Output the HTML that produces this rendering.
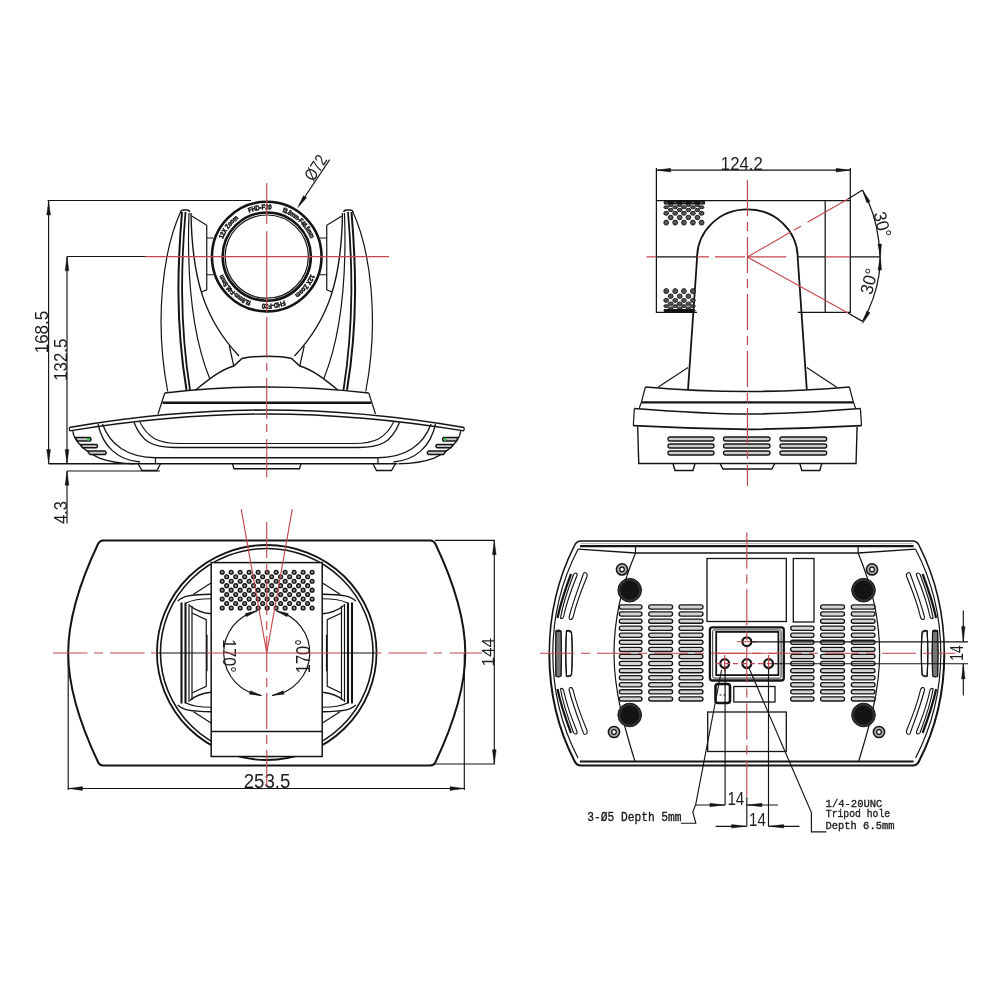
<!DOCTYPE html>
<html><head><meta charset="utf-8"><style>
html,body{margin:0;padding:0;background:#fff;width:1000px;height:1000px;overflow:hidden}
svg{display:block;will-change:transform}
</style></head><body>
<svg width="1000" height="1000" viewBox="0 0 1000 1000">
<rect width="1000" height="1000" fill="#fff"/>
<g id="fh">
<g fill="none" stroke="#141414" stroke-width="1.2">
 <path d="M181,211 C163,250 154,320 167.75,391.5"/>
 <path d="M180.5,212 Q181,210 183,210 L187,210 Q189,210 190,212" stroke-width="1.5"/>
 <path d="M182,212 C178,260 175,320 186.5,390" stroke-width="2.0"/>
 <path d="M185.5,212 C181.5,260 179,320 190,390" stroke-width="1.8"/>
 <path d="M189,213 C187,270 190,330 209.75,378.75"/>
 <path d="M191,213 C192,280 205,320 239,356" stroke-width="1.4"/>
 <path d="M191.7,216 L206.75,225.25 L206.75,289.75 L201.5,292"/>
 <path d="M206.75,238 L213.5,238 M206.75,274.75 L213.5,274.75"/>
 <path d="M229.25,345.75 L233.75,366"/>
 <path d="M195.5,390 C208,380 220,370 233.75,366 L242,358.5 C250,356.5 258,356.25 266.75,356.25" stroke-width="1.4"/>
 <path d="M164.75,393 C200,389 235,387 266.75,387" stroke-width="1.5"/>
 <path d="M162.5,402.75 L266.75,402.75" stroke-width="2.4"/>
 <path d="M164.75,393 L158,414"/>
 <path d="M69.3,427.5 C130,417 200,410 266.75,410" stroke-width="1.6"/>
 <path d="M69.5,430.9 C130,421 200,414 266.75,414" stroke-width="1.4"/>
 <path d="M69.3,427.5 L69.5,430.75"/>
 <path d="M72.8,431.2 C74,441 85,452 100,458.3 C110,462 122,463.5 135,463.75" stroke-width="1.3"/>
 <path d="M98,424 C103,447 118,460 140,462" stroke-width="1.3"/>
 <path d="M102.5,424 C110,445 128,457.75 156,457.75 L266.75,457.75" stroke-width="1.3"/>
 <path d="M155.5,457.75 L155.5,463.75"/>
 <path d="M134,422.5 C142,442 152,447.5 175,447.5 L266.75,447.5" stroke-width="1.3"/>
 <path d="M139.5,421.5 C148,438 158,443.5 180,443.5 L266.75,443.5" stroke-width="1.1"/>
 <path d="M138,463.75 L142,470.5 L157,470.5 L160.5,463.75" stroke-width="1.3"/>
 <path d="M232.5,463.75 L234,468.75 L266.75,468.75" stroke-width="1.3"/>
 <path d="M75.5,437.6 L90,437.6 Q92,439.3 90,441.1 L77,441.1 Z M80.5,444.4 L96.5,444.4 Q98.5,446 96.5,447.7 L82.5,447.7 Z M87.5,451 L105,451 Q107.5,452.8 105,454.6 L90,454.6 Z" stroke-width="1.5" fill="#c8c8c8"/>
</g>
<circle cx="88.4" cy="439.3" r="1.6" fill="#36c050"/>
</g>
<use href="#fh" transform="translate(533.5,0) scale(-1,1)"/>
<path d="M48.6,463.75 L135,463.75 M135,463.75 L397.5,463.75" stroke="#141414" stroke-width="1.4" fill="none"/>
<g fill="none" stroke="#141414">
 <circle cx="266.75" cy="256.6" r="54.8" stroke-width="2.6"/>
 <circle cx="266.75" cy="256.6" r="44.1" stroke-width="2.6"/>
 <circle cx="266.75" cy="256.6" r="41.6" stroke-width="1.2"/>
</g>
<defs><path id="ringp" d="M217.25,256.6 A49.5,49.5 0 0,1 316.25,256.6"/></defs>
<g id="ringtxt" font-family="'Liberation Sans', sans-serif" font-size="6.8" font-weight="bold" fill="#141414" stroke="#141414" stroke-width="0.55">
<text dy="2.2"><textPath href="#ringp" startOffset="19" textLength="27" lengthAdjust="spacingAndGlyphs">12X Zoom</textPath></text>
<text dy="2.2"><textPath href="#ringp" startOffset="58.7" textLength="23.8" lengthAdjust="spacingAndGlyphs">FHD-F20</textPath></text>
<text dy="2.2"><textPath href="#ringp" startOffset="94.2" textLength="41.8" lengthAdjust="spacingAndGlyphs">f3.8mm-F46.5mm</textPath></text>
</g>
<use href="#ringtxt" transform="rotate(180 266.75 256.6)"/>
<g fill="none" stroke="#141414" stroke-width="1.15">
 <path d="M47.5,200.5 L251,200.5"/>
 <path d="M48.6,200.5 L48.6,463.8"/>
 <path d="M67,256.5 L145,256.5"/>
 <path d="M67,256.5 L67,463.8"/>
 <path d="M67,471 L160,471"/>
 <path d="M67,471 L67,523.5"/>
 <path d="M329.7,159.6 L299,205.5"/>
</g>
<path d="M48.60,201.00 L50.50,215.00 L46.70,215.00Z" fill="#141414" stroke="#141414" stroke-width="0.4"/>
<path d="M48.60,463.50 L46.70,449.50 L50.50,449.50Z" fill="#141414" stroke="#141414" stroke-width="0.4"/>
<path d="M67.00,256.80 L68.90,270.80 L65.10,270.80Z" fill="#141414" stroke="#141414" stroke-width="0.4"/>
<path d="M67.00,463.50 L65.10,449.50 L68.90,449.50Z" fill="#141414" stroke="#141414" stroke-width="0.4"/>
<path d="M67.00,471.30 L68.90,485.30 L65.10,485.30Z" fill="#141414" stroke="#141414" stroke-width="0.4"/>
<path d="M297.80,207.50 L303.42,195.63 L306.59,197.73Z" fill="#141414" stroke="#141414" stroke-width="0.4"/>
<text transform="translate(48.40,332.00) rotate(-90) scale(0.920,1)" font-family="'Liberation Sans', sans-serif" font-size="18.57" text-anchor="middle" fill="#1c1c1c" >168.5</text>
<text transform="translate(66.80,359.70) rotate(-90) scale(0.895,1)" font-family="'Liberation Sans', sans-serif" font-size="18.86" text-anchor="middle" fill="#1c1c1c" >132.5</text>
<text transform="translate(66.80,512.40) rotate(-90) scale(0.909,1)" font-family="'Liberation Sans', sans-serif" font-size="18.00" text-anchor="middle" fill="#1c1c1c" >4.3</text>
<text transform="translate(320.60,170.90) rotate(-57) scale(0.827,1)" font-family="'Liberation Sans', sans-serif" font-size="17.22" text-anchor="middle" fill="#1c1c1c" >Ø72</text>
<g fill="none" stroke="#c4464c" stroke-width="1.15">
 <path d="M145,256.6 L389,256.6"/>
 <path d="M266.75,183 L266.75,223.8 M266.75,231.2 L266.75,312"/>
 <path d="M266.75,317 L266.75,477.5" stroke-dasharray="41,5,8,7"/>
</g>
<g id="sh">
<g fill="none" stroke="#141414" stroke-width="1.2">
 <path d="M697,259 C697,230 720,209.4 747.4,209.4" stroke-width="1.8"/>
 <path d="M697,259 L688,389.7" stroke-width="1.8"/>
 <path d="M658,387.3 L688,367.5" stroke-width="1.1"/>
 <path d="M645.4,387 C680,390 720,391.5 747.4,391.5" stroke-width="1.7"/>
 <path d="M645.4,387 L641.5,401.9 L639.3,408"/>
 <path d="M641.5,402.4 L747.4,402.4" stroke-width="2.4"/>
 <path d="M634.4,408.5 C680,412 720,414 747.4,414" stroke-width="1.7"/>
 <path d="M634.4,408.5 L633.3,425.6"/>
 <path d="M633.3,425.6 C680,428 720,429 747.4,429.4" stroke-width="1.7"/>
 <path d="M637.7,427 L638.75,463.5 L747.4,463.5" stroke-width="1.4"/>
 <path d="M673,463.5 L675,470.5 L693,470.5 L695,463.5" stroke-width="1.4"/>
 <path d="M720,463.5 L723,469 L747.4,469" stroke-width="1.4"/>
</g></g>
<use href="#sh" transform="translate(1494.8,0) scale(-1,1)"/>
<g fill="#ccc" stroke="#141414" stroke-width="1.3"><rect x="668" y="437" width="46.0" height="4" rx="2"/><rect x="668" y="444" width="46.0" height="4" rx="2"/><rect x="668" y="451" width="46.0" height="4" rx="2"/><rect x="723.5" y="437" width="46.5" height="4" rx="2"/><rect x="723.5" y="444" width="46.5" height="4" rx="2"/><rect x="723.5" y="451" width="46.5" height="4" rx="2"/><rect x="780" y="437" width="46.7" height="4" rx="2"/><rect x="780" y="444" width="46.7" height="4" rx="2"/><rect x="780" y="451" width="46.7" height="4" rx="2"/></g>
<g fill="none" stroke="#141414" stroke-width="1.25">
 <path d="M656.4,168 L656.4,312.4 L697,312.4 M797.8,312.4 L850.3,312.4 L850.3,168"/>
 <path d="M656.4,200.5 L850.3,200.5"/>
 <path d="M825.2,200.5 L825.2,312.4"/>
 <path d="M656.4,256.8 L697,256.8 M797.8,256.8 L825.2,256.8 M850.3,256.8 L880.4,256.8"/>
 <path d="M848,199 L862.5,190 M848,313 L862.5,321.4"/>
 <path d="M862.5,190 A133,133 0 0,1 878.6,240 M879,275 A133,133 0 0,1 862.5,321.4"/>
 <path d="M878.6,240 A133,133 0 0,1 879,275" />
 <path d="M656.4,170.2 L850.3,170.2"/>
</g>
<path d="M656.60,170.20 L670.60,168.30 L670.60,172.10Z" fill="#141414" stroke="#141414" stroke-width="0.4"/>
<path d="M850.10,170.20 L836.10,172.10 L836.10,168.30Z" fill="#141414" stroke="#141414" stroke-width="0.4"/>
<text transform="translate(741.75,170.00) rotate(0) scale(0.937,1)" font-family="'Liberation Sans', sans-serif" font-size="17.86" text-anchor="middle" fill="#1c1c1c" >124.2</text>
<path d="M862.58,190.50 L870.09,201.27 L866.88,202.90Z" fill="#141414" stroke="#141414" stroke-width="0.4"/>
<path d="M880.40,257.00 L877.92,244.11 L881.52,243.92Z" fill="#141414" stroke="#141414" stroke-width="0.4"/>
<path d="M880.40,257.00 L881.52,270.08 L877.92,269.89Z" fill="#141414" stroke="#141414" stroke-width="0.4"/>
<path d="M862.58,323.50 L866.88,311.10 L870.09,312.73Z" fill="#141414" stroke="#141414" stroke-width="0.4"/>
<text transform="translate(876.50,226.00) rotate(75) scale(0.960,1)" font-family="'Liberation Sans', sans-serif" font-size="17.86" text-anchor="middle" fill="#1c1c1c" >30°</text>
<text transform="translate(875.00,283.00) rotate(-75) scale(0.960,1)" font-family="'Liberation Sans', sans-serif" font-size="17.86" text-anchor="middle" fill="#1c1c1c" >30°</text>
<g fill="none" stroke="#c4464c" stroke-width="1.15">
 <path d="M646.6,256.8 L656.4,256.8 M747.4,256.8 L786.3,256.8 M825.2,256.8 L850.3,256.8"/>
 <path d="M697,256.8 L747.4,256.8" stroke-dasharray="12,6,30,6"/>
 <path d="M747.4,180 L747.4,486" stroke-dasharray="36,6,9,6"/>
 <path d="M747.4,257 L848,199" stroke-dasharray="50,3.5,8.3,7.6,100"/>
 <path d="M747.4,257 L848,313"/>
</g>
<g fill="#555" stroke="#141414" stroke-width="0.9"><rect x="664.5" y="200.8" width="40" height="3.2" fill="#141414"/><ellipse cx="666.2" cy="202.5" rx="2.4" ry="1.08"/><ellipse cx="675.2" cy="202.5" rx="2.4" ry="1.08"/><ellipse cx="683.9" cy="202.5" rx="2.4" ry="1.08"/><ellipse cx="692.9" cy="202.5" rx="2.4" ry="1.08"/><ellipse cx="701.6" cy="202.5" rx="2.4" ry="1.08"/><ellipse cx="670.7" cy="205.2" rx="2.4" ry="1.26"/><ellipse cx="679.7" cy="205.2" rx="2.4" ry="1.26"/><ellipse cx="688.4" cy="205.2" rx="2.4" ry="1.26"/><ellipse cx="697.4" cy="205.2" rx="2.4" ry="1.26"/><ellipse cx="666.2" cy="207.3" rx="2.4" ry="1.44"/><ellipse cx="675.2" cy="207.3" rx="2.4" ry="1.44"/><ellipse cx="683.9" cy="207.3" rx="2.4" ry="1.44"/><ellipse cx="692.9" cy="207.3" rx="2.4" ry="1.44"/><ellipse cx="701.6" cy="207.3" rx="2.4" ry="1.44"/><ellipse cx="670.7" cy="210" rx="2.4" ry="1.71"/><ellipse cx="679.7" cy="210" rx="2.4" ry="1.71"/><ellipse cx="688.4" cy="210" rx="2.4" ry="1.71"/><ellipse cx="697.4" cy="210" rx="2.4" ry="1.71"/><ellipse cx="666.2" cy="213.3" rx="2.4" ry="1.98"/><ellipse cx="675.2" cy="213.3" rx="2.4" ry="1.98"/><ellipse cx="683.9" cy="213.3" rx="2.4" ry="1.98"/><ellipse cx="692.9" cy="213.3" rx="2.4" ry="1.98"/><ellipse cx="701.6" cy="213.3" rx="2.4" ry="1.98"/><ellipse cx="670.7" cy="217.5" rx="2.4" ry="2.25"/><ellipse cx="679.7" cy="217.5" rx="2.4" ry="2.25"/><ellipse cx="688.4" cy="217.5" rx="2.4" ry="2.25"/><ellipse cx="697.4" cy="217.5" rx="2.4" ry="2.25"/><ellipse cx="666.2" cy="222.6" rx="2.4" ry="2.52"/><ellipse cx="675.2" cy="222.6" rx="2.4" ry="2.52"/><ellipse cx="683.9" cy="222.6" rx="2.4" ry="2.52"/><ellipse cx="692.9" cy="222.6" rx="2.4" ry="2.52"/><ellipse cx="701.6" cy="222.6" rx="2.4" ry="2.52"/><ellipse cx="666.2" cy="291.1" rx="2.4" ry="2.52"/><ellipse cx="675.2" cy="291.1" rx="2.4" ry="2.52"/><ellipse cx="683.9" cy="291.1" rx="2.4" ry="2.52"/><ellipse cx="692.9" cy="291.1" rx="2.4" ry="2.52"/><ellipse cx="670.7" cy="296.2" rx="2.4" ry="2.25"/><ellipse cx="679.7" cy="296.2" rx="2.4" ry="2.25"/><ellipse cx="688.4" cy="296.2" rx="2.4" ry="2.25"/><ellipse cx="666.2" cy="300.4" rx="2.4" ry="1.98"/><ellipse cx="675.2" cy="300.4" rx="2.4" ry="1.98"/><ellipse cx="683.9" cy="300.4" rx="2.4" ry="1.98"/><ellipse cx="692.9" cy="300.4" rx="2.4" ry="1.98"/><ellipse cx="670.7" cy="303.7" rx="2.4" ry="1.71"/><ellipse cx="679.7" cy="303.7" rx="2.4" ry="1.71"/><ellipse cx="688.4" cy="303.7" rx="2.4" ry="1.71"/><ellipse cx="666.2" cy="306.1" rx="2.4" ry="1.44"/><ellipse cx="675.2" cy="306.1" rx="2.4" ry="1.44"/><ellipse cx="683.9" cy="306.1" rx="2.4" ry="1.44"/><ellipse cx="692.9" cy="306.1" rx="2.4" ry="1.44"/><ellipse cx="670.7" cy="308.2" rx="2.4" ry="1.26"/><ellipse cx="679.7" cy="308.2" rx="2.4" ry="1.26"/><ellipse cx="688.4" cy="308.2" rx="2.4" ry="1.26"/><ellipse cx="666.2" cy="310.6" rx="2.4" ry="1.08"/><ellipse cx="675.2" cy="310.6" rx="2.4" ry="1.08"/><ellipse cx="683.9" cy="310.6" rx="2.4" ry="1.08"/><ellipse cx="692.9" cy="310.6" rx="2.4" ry="1.08"/><rect x="664.5" y="309.5" width="29" height="3" fill="#141414"/></g>
<g id="th">
<g fill="none" stroke="#141414" stroke-width="1.2">
 <path d="M266.75,540.4 L103,540.4 Q99.5,540.6 98,544 C80,582 68.2,620 68.2,653" stroke-width="2"/>
 <path d="M181.5,602.5 L181.5,653 M185.5,602.5 L185.5,653" stroke-width="2.1"/>
 <path d="M189,604 L189,653 M192,606 L192,653" stroke-width="1.2"/>
 <path d="M177.75,601 C183,596 190,594.5 211,594.25" stroke-width="1.3"/>
 <path d="M186,603 C193,599.5 200,598.75 211,598.75"/>
 <path d="M189.75,605.5 C195,610 203,613 211,613.75" stroke-width="1.3"/>
 <path d="M192,613 L206.25,619.75 L206.25,653"/>
 <path d="M193.5,594.25 L211,583"/>
 <path d="M207,634.75 L207,653"/>
 <path d="M211,634.75 C214,640 214.5,646 214.5,653"/>
</g></g><use href="#th" transform="translate(533.5,0) scale(-1,1)"/>
<use href="#th" transform="translate(0,1306) scale(1,-1)"/><use href="#th" transform="translate(533.5,1306) scale(-1,-1)"/>
<g fill="none" stroke="#141414">
 <ellipse cx="266.75" cy="652.5" rx="109.8" ry="107.5" stroke-width="1.8"/>
 <ellipse cx="266.75" cy="652.5" rx="106.3" ry="104" stroke-width="1.6"/>
</g>
<rect x="211.2" y="562.6" width="111" height="193.9" fill="#fff" stroke="#141414" stroke-width="1.5"/>
<path d="M211.2,731.5 L322.2,731.5" stroke="#141414" stroke-width="1.6"/>

<g fill="#888" stroke="#151515" stroke-width="1.35"><circle cx="222.20" cy="572.30" r="1.9"/><circle cx="231.19" cy="572.30" r="1.9"/><circle cx="240.18" cy="572.30" r="1.9"/><circle cx="249.17" cy="572.30" r="1.9"/><circle cx="258.16" cy="572.30" r="1.9"/><circle cx="267.15" cy="572.30" r="1.9"/><circle cx="276.14" cy="572.30" r="1.9"/><circle cx="285.13" cy="572.30" r="1.9"/><circle cx="294.12" cy="572.30" r="1.9"/><circle cx="303.11" cy="572.30" r="1.9"/><circle cx="312.10" cy="572.30" r="1.9"/><circle cx="226.70" cy="576.76" r="1.9"/><circle cx="235.69" cy="576.76" r="1.9"/><circle cx="244.68" cy="576.76" r="1.9"/><circle cx="253.67" cy="576.76" r="1.9"/><circle cx="262.66" cy="576.76" r="1.9"/><circle cx="271.65" cy="576.76" r="1.9"/><circle cx="280.64" cy="576.76" r="1.9"/><circle cx="289.63" cy="576.76" r="1.9"/><circle cx="298.62" cy="576.76" r="1.9"/><circle cx="307.61" cy="576.76" r="1.9"/><circle cx="222.20" cy="581.22" r="1.9"/><circle cx="231.19" cy="581.22" r="1.9"/><circle cx="240.18" cy="581.22" r="1.9"/><circle cx="249.17" cy="581.22" r="1.9"/><circle cx="258.16" cy="581.22" r="1.9"/><circle cx="267.15" cy="581.22" r="1.9"/><circle cx="276.14" cy="581.22" r="1.9"/><circle cx="285.13" cy="581.22" r="1.9"/><circle cx="294.12" cy="581.22" r="1.9"/><circle cx="303.11" cy="581.22" r="1.9"/><circle cx="312.10" cy="581.22" r="1.9"/><circle cx="226.70" cy="585.68" r="1.9"/><circle cx="235.69" cy="585.68" r="1.9"/><circle cx="244.68" cy="585.68" r="1.9"/><circle cx="253.67" cy="585.68" r="1.9"/><circle cx="262.66" cy="585.68" r="1.9"/><circle cx="271.65" cy="585.68" r="1.9"/><circle cx="280.64" cy="585.68" r="1.9"/><circle cx="289.63" cy="585.68" r="1.9"/><circle cx="298.62" cy="585.68" r="1.9"/><circle cx="307.61" cy="585.68" r="1.9"/><circle cx="222.20" cy="590.14" r="1.9"/><circle cx="231.19" cy="590.14" r="1.9"/><circle cx="240.18" cy="590.14" r="1.9"/><circle cx="249.17" cy="590.14" r="1.9"/><circle cx="258.16" cy="590.14" r="1.9"/><circle cx="267.15" cy="590.14" r="1.9"/><circle cx="276.14" cy="590.14" r="1.9"/><circle cx="285.13" cy="590.14" r="1.9"/><circle cx="294.12" cy="590.14" r="1.9"/><circle cx="303.11" cy="590.14" r="1.9"/><circle cx="312.10" cy="590.14" r="1.9"/><circle cx="226.70" cy="594.60" r="1.9"/><circle cx="235.69" cy="594.60" r="1.9"/><circle cx="244.68" cy="594.60" r="1.9"/><circle cx="253.67" cy="594.60" r="1.9"/><circle cx="262.66" cy="594.60" r="1.9"/><circle cx="271.65" cy="594.60" r="1.9"/><circle cx="280.64" cy="594.60" r="1.9"/><circle cx="289.63" cy="594.60" r="1.9"/><circle cx="298.62" cy="594.60" r="1.9"/><circle cx="307.61" cy="594.60" r="1.9"/><circle cx="222.20" cy="599.06" r="1.9"/><circle cx="231.19" cy="599.06" r="1.9"/><circle cx="240.18" cy="599.06" r="1.9"/><circle cx="249.17" cy="599.06" r="1.9"/><circle cx="258.16" cy="599.06" r="1.9"/><circle cx="267.15" cy="599.06" r="1.9"/><circle cx="276.14" cy="599.06" r="1.9"/><circle cx="285.13" cy="599.06" r="1.9"/><circle cx="294.12" cy="599.06" r="1.9"/><circle cx="303.11" cy="599.06" r="1.9"/><circle cx="312.10" cy="599.06" r="1.9"/><circle cx="226.70" cy="603.52" r="1.9"/><circle cx="235.69" cy="603.52" r="1.9"/><circle cx="244.68" cy="603.52" r="1.9"/><circle cx="253.67" cy="603.52" r="1.9"/><circle cx="262.66" cy="603.52" r="1.9"/><circle cx="271.65" cy="603.52" r="1.9"/><circle cx="280.64" cy="603.52" r="1.9"/><circle cx="289.63" cy="603.52" r="1.9"/><circle cx="298.62" cy="603.52" r="1.9"/><circle cx="307.61" cy="603.52" r="1.9"/><circle cx="222.20" cy="607.98" r="1.9"/><circle cx="231.19" cy="607.98" r="1.9"/><circle cx="240.18" cy="607.98" r="1.9"/><circle cx="249.17" cy="607.98" r="1.9"/><circle cx="258.16" cy="607.98" r="1.9"/><circle cx="267.15" cy="607.98" r="1.9"/><circle cx="276.14" cy="607.98" r="1.9"/><circle cx="285.13" cy="607.98" r="1.9"/><circle cx="294.12" cy="607.98" r="1.9"/><circle cx="303.11" cy="607.98" r="1.9"/><circle cx="312.10" cy="607.98" r="1.9"/></g>
<g fill="none" stroke="#141414" stroke-width="1.15">
<path d="M257.08,610.90 A43,43 0 0,0 261.51,695.48"/>
<path d="M276.42,610.90 A43,43 0 0,1 271.99,695.48"/>
</g>
<path d="M257.08,610.90 L246.47,616.79 L245.21,613.42Z" fill="#141414" stroke="#141414" stroke-width="0.4"/>
<path d="M261.51,695.48 L249.44,694.22 L250.34,690.73Z" fill="#141414" stroke="#141414" stroke-width="0.4"/>
<path d="M276.42,610.90 L288.29,613.42 L287.03,616.79Z" fill="#141414" stroke="#141414" stroke-width="0.4"/>
<path d="M271.99,695.48 L283.16,690.73 L284.06,694.22Z" fill="#141414" stroke="#141414" stroke-width="0.4"/>
<text transform="translate(222.80,656.00) rotate(90) scale(0.837,1)" font-family="'Liberation Sans', sans-serif" font-size="19.29" text-anchor="middle" fill="#1c1c1c" >170°</text>
<text transform="translate(310.20,656.20) rotate(-90) scale(0.851,1)" font-family="'Liberation Sans', sans-serif" font-size="19.29" text-anchor="middle" fill="#1c1c1c" >170°</text>
<g fill="none" stroke="#141414" stroke-width="1.15">
 <path d="M68.2,653 L68.2,790"/>
 <path d="M464.3,653 L464.3,790"/>
 <path d="M68.2,788.5 L464.3,788.5"/>
 <path d="M435,540.4 L495,540.4 M435,764 L495,764"/>
 <path d="M494.3,540.4 L494.3,764"/>
</g>
<path d="M68.50,788.50 L82.50,786.60 L82.50,790.40Z" fill="#141414" stroke="#141414" stroke-width="0.4"/>
<path d="M464.00,788.50 L450.00,790.40 L450.00,786.60Z" fill="#141414" stroke="#141414" stroke-width="0.4"/>
<path d="M494.30,540.70 L496.20,554.70 L492.40,554.70Z" fill="#141414" stroke="#141414" stroke-width="0.4"/>
<path d="M494.30,763.70 L492.40,749.70 L496.20,749.70Z" fill="#141414" stroke="#141414" stroke-width="0.4"/>
<text transform="translate(267.00,788.30) rotate(0) scale(0.933,1)" font-family="'Liberation Sans', sans-serif" font-size="20.00" text-anchor="middle" fill="#1c1c1c" >253.5</text>
<text transform="translate(494.10,652.30) rotate(-90) scale(1.001,1)" font-family="'Liberation Sans', sans-serif" font-size="17.14" text-anchor="middle" fill="#1c1c1c" >144</text>
<g fill="none" stroke="#c4464c" stroke-width="1.15">
 <path d="M53,653 L157,653" stroke-dasharray="34.5,6.5,9,7"/>
 <path d="M206.4,653 L341,653"/>
 <path d="M376.5,653 L482,653" stroke-dasharray="5,7,38.5,7,8,8,40"/>
 <path d="M157,653 L206.4,653 M341,653 L376,653" stroke="#141414"/>
 <path d="M266.75,522 L266.75,790" stroke-dasharray="36,6,9,6"/>
 <path d="M241.2,509.2 L266.75,653 L292.3,509.2"/>
</g>
<g id="bq">
<g fill="none" stroke="#141414" stroke-width="1.2">
 <path d="M746.8,541 L581,541 Q576.5,541 574.5,545.5 C558,578 549.3,615 549.3,653.5" stroke-width="1.6"/>
 <path d="M746.8,546.1 L580,546.1" stroke-width="2.3"/>
 <path d="M746.8,543.6 L581,543.6" stroke-width="0.8" stroke="#999"/>
 <path d="M578,549.2 C562,580 552.8,615 552.8,653.5"/>
 <path d="M578,549.2 L635.5,553 L746.8,553" stroke-width="1.3"/>
 <path d="M635.5,546 L635.5,553"/>
 <path d="M635.5,553 C625,578 614,615 614,653.5"/>
</g>
<g fill="none" stroke="#141414" stroke-width="1.2">
 <path d="M746.8,765.5 L581,765.5 Q576.5,765.5 574.5,761 C558,729 549.3,692 549.3,653.5" stroke-width="2"/>
 <path d="M746.8,761.5 L580,761.5" stroke-width="2"/>
 <path d="M578,758 C562,727 552.8,692 552.8,653.5"/>
 <path d="M635,761.5 C625,729 614,692 614,653.5"/>
</g></g><use href="#bq" transform="translate(1493.6,0) scale(-1,1)"/>
<g stroke="#141414" stroke-width="1.5"><circle cx="622" cy="569.4" r="5.6" fill="#aaa"/><circle cx="622" cy="569.4" r="2.3" fill="#fff" stroke-width="1.2"/></g>
<g stroke="#141414" stroke-width="1.5"><circle cx="614" cy="732" r="5.6" fill="#aaa"/><circle cx="614" cy="732" r="2.3" fill="#fff" stroke-width="1.2"/></g>
<g stroke="#141414" stroke-width="1.5"><circle cx="872" cy="569.4" r="5.6" fill="#aaa"/><circle cx="872" cy="569.4" r="2.3" fill="#fff" stroke-width="1.2"/></g>
<g stroke="#141414" stroke-width="1.5"><circle cx="879" cy="732" r="5.6" fill="#aaa"/><circle cx="879" cy="732" r="2.3" fill="#fff" stroke-width="1.2"/></g>
<circle cx="629.7" cy="590.2" r="11.8" fill="#333" stroke="#141414" stroke-width="1"/><circle cx="629.7" cy="590.2" r="9.5" fill="#141414"/>
<circle cx="629.7" cy="715" r="11.8" fill="#333" stroke="#141414" stroke-width="1"/><circle cx="629.7" cy="715" r="9.5" fill="#141414"/>
<circle cx="863.5" cy="590.2" r="11.8" fill="#333" stroke="#141414" stroke-width="1"/><circle cx="863.5" cy="590.2" r="9.5" fill="#141414"/>
<circle cx="863.5" cy="715" r="11.8" fill="#333" stroke="#141414" stroke-width="1"/><circle cx="863.5" cy="715" r="9.5" fill="#141414"/>
<g fill="#d4d4d4" stroke="#141414" stroke-width="1.3"><rect x="619.3" y="604.90" width="22.7" height="4.2" rx="2.1"/><rect x="619.3" y="611.97" width="22.7" height="4.2" rx="2.1"/><rect x="619.3" y="619.04" width="22.7" height="4.2" rx="2.1"/><rect x="619.3" y="626.11" width="22.7" height="4.2" rx="2.1"/><rect x="619.3" y="633.18" width="22.7" height="4.2" rx="2.1"/><rect x="619.3" y="640.25" width="22.7" height="4.2" rx="2.1"/><rect x="619.3" y="647.32" width="22.7" height="4.2" rx="2.1"/><rect x="619.3" y="654.39" width="22.7" height="4.2" rx="2.1"/><rect x="619.3" y="661.46" width="22.7" height="4.2" rx="2.1"/><rect x="619.3" y="668.53" width="22.7" height="4.2" rx="2.1"/><rect x="619.3" y="675.60" width="22.7" height="4.2" rx="2.1"/><rect x="619.3" y="682.67" width="22.7" height="4.2" rx="2.1"/><rect x="619.3" y="689.74" width="22.7" height="4.2" rx="2.1"/><rect x="619.3" y="696.81" width="22.7" height="4.2" rx="2.1"/><rect x="648.7" y="604.90" width="23.9" height="4.2" rx="2.1"/><rect x="648.7" y="611.97" width="23.9" height="4.2" rx="2.1"/><rect x="648.7" y="619.04" width="23.9" height="4.2" rx="2.1"/><rect x="648.7" y="626.11" width="23.9" height="4.2" rx="2.1"/><rect x="648.7" y="633.18" width="23.9" height="4.2" rx="2.1"/><rect x="648.7" y="640.25" width="23.9" height="4.2" rx="2.1"/><rect x="648.7" y="647.32" width="23.9" height="4.2" rx="2.1"/><rect x="648.7" y="654.39" width="23.9" height="4.2" rx="2.1"/><rect x="648.7" y="661.46" width="23.9" height="4.2" rx="2.1"/><rect x="648.7" y="668.53" width="23.9" height="4.2" rx="2.1"/><rect x="648.7" y="675.60" width="23.9" height="4.2" rx="2.1"/><rect x="648.7" y="682.67" width="23.9" height="4.2" rx="2.1"/><rect x="648.7" y="689.74" width="23.9" height="4.2" rx="2.1"/><rect x="648.7" y="696.81" width="23.9" height="4.2" rx="2.1"/><rect x="679" y="604.90" width="24.0" height="4.2" rx="2.1"/><rect x="679" y="611.97" width="24.0" height="4.2" rx="2.1"/><rect x="679" y="619.04" width="24.0" height="4.2" rx="2.1"/><rect x="679" y="626.11" width="24.0" height="4.2" rx="2.1"/><rect x="679" y="633.18" width="24.0" height="4.2" rx="2.1"/><rect x="679" y="640.25" width="24.0" height="4.2" rx="2.1"/><rect x="679" y="647.32" width="24.0" height="4.2" rx="2.1"/><rect x="679" y="654.39" width="24.0" height="4.2" rx="2.1"/><rect x="679" y="661.46" width="24.0" height="4.2" rx="2.1"/><rect x="679" y="668.53" width="24.0" height="4.2" rx="2.1"/><rect x="679" y="675.60" width="24.0" height="4.2" rx="2.1"/><rect x="679" y="682.67" width="24.0" height="4.2" rx="2.1"/><rect x="679" y="689.74" width="24.0" height="4.2" rx="2.1"/><rect x="679" y="696.81" width="24.0" height="4.2" rx="2.1"/><rect x="790.7" y="626.11" width="23.3" height="4.2" rx="2.1"/><rect x="790.7" y="633.18" width="23.3" height="4.2" rx="2.1"/><rect x="790.7" y="640.25" width="23.3" height="4.2" rx="2.1"/><rect x="790.7" y="647.32" width="23.3" height="4.2" rx="2.1"/><rect x="790.7" y="654.39" width="23.3" height="4.2" rx="2.1"/><rect x="790.7" y="661.46" width="23.3" height="4.2" rx="2.1"/><rect x="790.7" y="668.53" width="23.3" height="4.2" rx="2.1"/><rect x="790.7" y="675.60" width="23.3" height="4.2" rx="2.1"/><rect x="790.7" y="682.67" width="23.3" height="4.2" rx="2.1"/><rect x="790.7" y="689.74" width="23.3" height="4.2" rx="2.1"/><rect x="790.7" y="696.81" width="23.3" height="4.2" rx="2.1"/><rect x="820.6" y="604.90" width="23.9" height="4.2" rx="2.1"/><rect x="820.6" y="611.97" width="23.9" height="4.2" rx="2.1"/><rect x="820.6" y="619.04" width="23.9" height="4.2" rx="2.1"/><rect x="820.6" y="626.11" width="23.9" height="4.2" rx="2.1"/><rect x="820.6" y="633.18" width="23.9" height="4.2" rx="2.1"/><rect x="820.6" y="640.25" width="23.9" height="4.2" rx="2.1"/><rect x="820.6" y="647.32" width="23.9" height="4.2" rx="2.1"/><rect x="820.6" y="654.39" width="23.9" height="4.2" rx="2.1"/><rect x="820.6" y="661.46" width="23.9" height="4.2" rx="2.1"/><rect x="820.6" y="668.53" width="23.9" height="4.2" rx="2.1"/><rect x="820.6" y="675.60" width="23.9" height="4.2" rx="2.1"/><rect x="820.6" y="682.67" width="23.9" height="4.2" rx="2.1"/><rect x="820.6" y="689.74" width="23.9" height="4.2" rx="2.1"/><rect x="820.6" y="696.81" width="23.9" height="4.2" rx="2.1"/><rect x="851.3" y="604.90" width="23.7" height="4.2" rx="2.1"/><rect x="851.3" y="611.97" width="23.7" height="4.2" rx="2.1"/><rect x="851.3" y="619.04" width="23.7" height="4.2" rx="2.1"/><rect x="851.3" y="626.11" width="23.7" height="4.2" rx="2.1"/><rect x="851.3" y="633.18" width="23.7" height="4.2" rx="2.1"/><rect x="851.3" y="640.25" width="23.7" height="4.2" rx="2.1"/><rect x="851.3" y="647.32" width="23.7" height="4.2" rx="2.1"/><rect x="851.3" y="654.39" width="23.7" height="4.2" rx="2.1"/><rect x="851.3" y="661.46" width="23.7" height="4.2" rx="2.1"/><rect x="851.3" y="668.53" width="23.7" height="4.2" rx="2.1"/><rect x="851.3" y="675.60" width="23.7" height="4.2" rx="2.1"/><rect x="851.3" y="682.67" width="23.7" height="4.2" rx="2.1"/><rect x="851.3" y="689.74" width="23.7" height="4.2" rx="2.1"/><rect x="851.3" y="696.81" width="23.7" height="4.2" rx="2.1"/></g>
<g fill="none" stroke="#141414" stroke-width="1.3">
 <rect x="707" y="558.5" width="79.3" height="63"/>
 <rect x="793.3" y="558.5" width="20.7" height="63.5"/>
 <rect x="709.9" y="627.4" width="73.9" height="53.1" rx="2.5" stroke-width="2.3"/>
 <rect x="712.7" y="629.9" width="68.4" height="48.2" rx="1.5" stroke-width="0.9"/>
 <rect x="716.2" y="631.9" width="62.2" height="43.2" stroke-width="1.8"/>
 <circle cx="746.8" cy="641.7" r="4.4" stroke-width="2.3"/>
 <circle cx="724.7" cy="663.6" r="4.4" stroke-width="2.3"/>
 <circle cx="746.8" cy="663.6" r="4.4" stroke-width="2.3"/>
 <circle cx="768.6" cy="663.6" r="4.4" stroke-width="2.3"/>
 <rect x="715.5" y="684" width="14.5" height="19" rx="2.5" stroke-width="2.6"/>
 <path d="M719.5,695 L721.5,695 M723.5,695 L725.5,695" stroke-width="1"/>
 <rect x="733.8" y="686.5" width="41.2" height="15.5"/>
 <rect x="707.7" y="712" width="78.6" height="39.5"/>
</g>
<g id="sl"><g fill="none" stroke="#141414" stroke-width="1.15">
 <path d="M584.5,572.5 Q588,573 587,576.5 C581,591 576,604 573,617.5 Q571.5,620.5 569.5,619 Q568.5,617.5 569.5,615.5 C573,602 578,589 583,575 Q583.5,572.5 584.5,572.5Z"/>
 <path d="M575.5,573 Q577.5,573 577,575.5 C571,590 566.5,603 563.5,617 Q562,619.5 560.5,618 C563,603 568,589 573.5,574.5 Q574.5,573 575.5,573Z"/>
 <path d="M571,574 C565,590 560.5,603 557.5,618" stroke-width="2.2"/>
 <path d="M566.5,630.5 Q570,629.5 571.5,632 C572.5,645 572.5,660 571.5,674 Q570,676.5 566.5,675.5 C565.5,660 565.5,645 566.5,630.5Z"/>
 <path d="M556,630.5 Q559,629.5 561,631 C561.5,645 561.5,660 561,675 Q559,676.5 556,675.5 C555.5,660 555.5,645 556,630.5Z" fill="#777"/>
</g></g><use href="#sl" transform="translate(0,1307.0) scale(1,-1)"/>
<use href="#sl" transform="translate(1493.6,0) scale(-1,1)"/><use href="#sl" transform="translate(1493.6,1307.0) scale(-1,-1)"/>
<g fill="none" stroke="#c4464c" stroke-width="1.15">
 <path d="M540,653.2 L955.4,653.2" stroke-dasharray="34,7,9,7"/>
 <path d="M746.8,532.5 L746.8,797" stroke-dasharray="36,6,9,6"/>
 <path d="M716,663.6 L778,663.6" stroke-dasharray="5,3,6,3"/>
 <path d="M737,641.7 L757,641.7 M724.7,655 L724.7,672 M768.6,655 L768.6,672 M716,653.2 L779,653.2"/>
</g>
<g fill="none" stroke="#141414" stroke-width="1.15">
 <path d="M751,641.8 L968,641.8 M773,663.7 L968,663.7"/>
 <path d="M963.3,610.4 L963.3,641.8 M963.3,663.7 L963.3,695.6"/>
 <path d="M725.1,668 L725.1,805 M746.8,797 L746.8,826.3 M768.5,668 L768.5,826.3"/>
 <path d="M695.8,805 L725.1,805 M746.8,805 L778,805"/>
 <path d="M715.7,826.3 L746.8,826.3 M768.5,826.3 L799.5,826.3"/>
 <path d="M680.8,823.2 L695.8,823.2 L692.8,812 L695.8,804.2 L721.5,670"/>
 <path d="M826.4,831.8 L811.4,831.8 L811.4,812.6 L749,668"/>
</g>
<path d="M963.30,641.60 L961.55,626.60 L965.05,626.60Z" fill="#141414" stroke="#141414" stroke-width="0.4"/>
<path d="M963.30,663.90 L965.05,678.90 L961.55,678.90Z" fill="#141414" stroke="#141414" stroke-width="0.4"/>
<path d="M724.90,805.00 L709.90,806.75 L709.90,803.25Z" fill="#141414" stroke="#141414" stroke-width="0.4"/>
<path d="M747.00,805.00 L762.00,803.25 L762.00,806.75Z" fill="#141414" stroke="#141414" stroke-width="0.4"/>
<path d="M746.60,826.30 L731.60,828.05 L731.60,824.55Z" fill="#141414" stroke="#141414" stroke-width="0.4"/>
<path d="M768.70,826.30 L783.70,824.55 L783.70,828.05Z" fill="#141414" stroke="#141414" stroke-width="0.4"/>
<text transform="translate(963.30,653.00) rotate(-90) scale(0.769,1)" font-family="'Liberation Sans', sans-serif" font-size="18.00" text-anchor="middle" fill="#1c1c1c" >14</text>
<text transform="translate(735.80,805.00) rotate(0) scale(0.797,1)" font-family="'Liberation Sans', sans-serif" font-size="19.00" text-anchor="middle" fill="#1c1c1c" >14</text>
<text transform="translate(757.50,826.30) rotate(0) scale(0.816,1)" font-family="'Liberation Sans', sans-serif" font-size="18.57" text-anchor="middle" fill="#1c1c1c" >14</text>
<text transform="translate(587.30,821.00) rotate(0) scale(0.911,1)" font-family="'Liberation Mono', monospace" font-size="12.33" text-anchor="start" fill="#1c1c1c" stroke="#1c1c1c" stroke-width="0.35">3-Ø5 Depth 5mm</text>
<text transform="translate(825.60,806.60) rotate(0) scale(0.914,1)" font-family="'Liberation Mono', monospace" font-size="11.51" text-anchor="start" fill="#1c1c1c" stroke="#1c1c1c" stroke-width="0.35">1/4-20UNC</text>
<text transform="translate(825.80,817.40) rotate(0) scale(0.848,1)" font-family="'Liberation Mono', monospace" font-size="11.51" text-anchor="start" fill="#1c1c1c" stroke="#1c1c1c" stroke-width="0.35">Tripod hole</text>
<text transform="translate(825.60,829.40) rotate(0) scale(0.907,1)" font-family="'Liberation Mono', monospace" font-size="11.51" text-anchor="start" fill="#1c1c1c" stroke="#1c1c1c" stroke-width="0.35">Depth 6.5mm</text>
</svg></body></html>
